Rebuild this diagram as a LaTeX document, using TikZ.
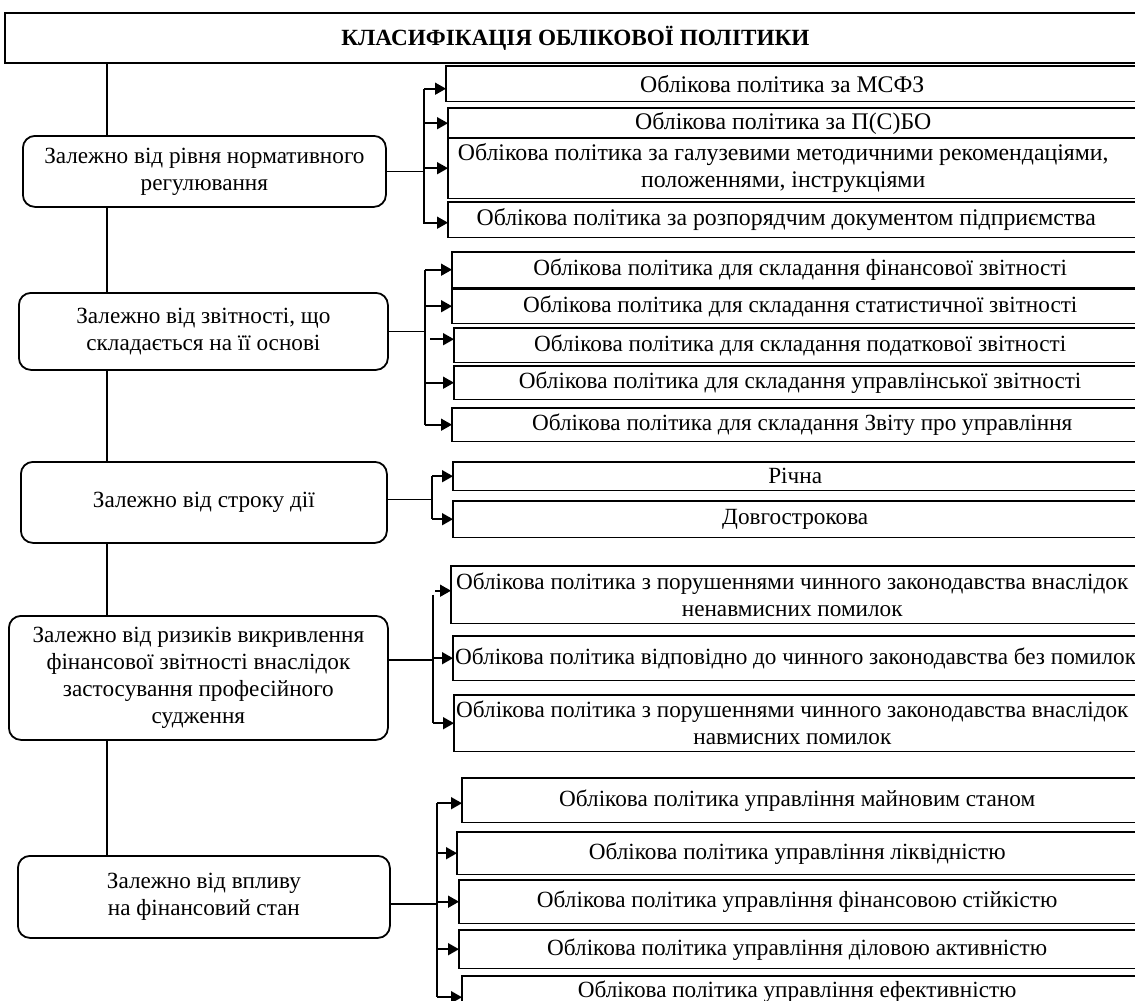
\documentclass[tikz,border=0pt]{standalone}
\usepackage{fontspec}
\setmainfont{Liberation Serif}
\usetikzlibrary{arrows.meta,positioning}

\begin{document}
\begin{tikzpicture}[
  x=1pt, y=-1pt,
  font=\fontsize{23.2}{27}\selectfont,
  head/.style={draw, line width=1.8pt, anchor=north west, align=center,
               font=\fontsize{23.2}{27}\selectfont\bfseries},
  kind/.style={draw, line width=1.8pt, rounded corners=12pt, anchor=north west,
               align=center, inner sep=2pt},
  item/.style={anchor=north west, align=center, inner sep=2pt},
  frame/.style={line width=1.8pt},
  link/.style={line width=1.6pt},
  arr/.style={line width=1.6pt, -{Triangle[length=11pt, width=12pt]}},
]
\useasboundingbox (0,0) rectangle (1135,1001);
\clip (0,0) rectangle (1135,1001);

% ---------------- title and spine ---------------------------------------
\node[head, minimum width=1141pt, minimum height=50pt] (title) at (4,12)
  {КЛАСИФІКАЦІЯ ОБЛІКОВОЇ ПОЛІТИКИ};
\coordinate (spine) at (107,0);
\coordinate (rim) at (1145,0);

% ---------------- kinds of classification -------------------------------
\node[kind, minimum width=363pt, minimum height=71pt] (b1) at (22,135)
  {Залежно від рівня нормативного\\регулювання};
\node[kind, minimum width=369pt, minimum height=77pt] (b2) at (18,292)
  {Залежно від звітності, що\\складається на її основі};
\node[kind, minimum width=366pt, minimum height=81pt] (b3) at (20,461)
  {Залежно від строку дії};
\node[kind, minimum width=379pt, minimum height=124pt] (b4) at (8,615)
  {Залежно від ризиків викривлення\\фінансової звітності внаслідок\\застосування професійного\\судження};
\node[kind, minimum width=372pt, minimum height=82pt] (b5) at (17,855)
  {Залежно від впливу\\на фінансовий стан};

\draw[link] (title.south -| spine) -- (b1.north -| spine);
\draw[link] (b1.south -| spine) -- (b2.north -| spine);
\draw[link] (b2.south -| spine) -- (b3.north -| spine);
\draw[link] (b3.south -| spine) -- (b4.north -| spine);
\draw[link] (b4.south -| spine) -- (b5.north -| spine);

% ---------------- group 1: regulation level -----------------------------
\begin{scope}[every node/.append style={font=\fontsize{23.8}{27}\selectfont}]
\node[item, minimum width=672pt, minimum height=35pt] (n1) at (446,66)
  {Облікова політика за МСФЗ};
\node[item, minimum width=670pt, minimum height=30pt] (n2) at (448,108)
  {Облікова політика за П(С)БО};
\node[item, minimum width=670pt, minimum height=60pt] (n3) at (448,138)
  {Облікова політика за галузевими методичними рекомендаціями,\\положеннями, інструкціями};
\node[item, minimum width=676pt, minimum height=35pt] (n4) at (448,202)
  {Облікова політика за розпорядчим документом підприємства};
\end{scope}
\coordinate (br1) at (424,0);

\foreach \n in {n1,n2,n3,n4} {
  \draw[frame] (\n.north west) rectangle (\n.south east -| rim);
}
\draw[link] (b1.east) -- (b1.east -| br1);
\draw[link] ([yshift=-5pt]n1.west -| br1) -- ([yshift=-4pt]n4.west -| br1);
\draw[arr] ([yshift=-5pt]n1.west -| br1) -- ([yshift=-5pt]n1.west);
\foreach \n in {n2,n3} {
  \draw[arr] (\n.west -| br1) -- (\n.west);
}
\draw[arr] ([yshift=-3pt]n4.west -| br1) -- ([yshift=-3pt]n4.west);

% ---------------- group 2: reporting ------------------------------------
\node[item, minimum width=696pt, minimum height=35pt] (s1) at (452,252)
  {Облікова політика для складання фінансової звітності};
\node[item, minimum width=696pt, minimum height=34pt] (s2) at (452,289)
  {Облікова політика для складання статистичної звітності};
\node[item, minimum width=692pt, minimum height=34pt] (s3) at (454,328)
  {Облікова політика для складання податкової звітності};
\node[item, minimum width=692pt, minimum height=33pt] (s4) at (454,366)
  {Облікова політика для складання управлінської звітності};
\node[item, minimum width=700pt, minimum height=33pt] (s5) at (452,408)
  {Облікова політика для складання Звіту про управління};
\coordinate (br2) at (425,0);

\foreach \n in {s1,s2,s3,s4,s5} {
  \draw[frame] (\n.north west) rectangle (\n.south east -| rim);
}
\draw[link] (b2.east) -- (b2.east -| br2);
\draw[link] (s1.west -| br2) -- (s5.west -| br2);
\foreach \n in {s1,s2,s4,s5} {
  \draw[arr] (\n.west -| br2) -- (\n.west);
}
\draw[arr] ([xshift=5pt,yshift=6pt]s3.west -| br2) -- ([yshift=6pt]s3.west);

% ---------------- group 3: term -----------------------------------------
\node[item, minimum width=684pt, minimum height=28pt] (t1) at (453,462) {Річна};
\node[item, minimum width=684pt, minimum height=36pt] (t2) at (453,501) {Довгострокова};
\coordinate (br3) at (432,0);

\foreach \n in {t1,t2} {
  \draw[frame] (\n.north west) rectangle (\n.south east -| rim);
}
\draw[link] ([yshift=3pt]b3.east) -- ([yshift=3pt]b3.east -| br3);
\draw[link] (t1.west -| br3) -- (t2.west -| br3);
\foreach \n in {t1,t2} {
  \draw[arr] (\n.west -| br3) -- (\n.west);
}

% ---------------- group 4: judgement risks ------------------------------
\node[item, minimum width=682pt, minimum height=57pt] (r1) at (451,566)
  {Облікова політика з порушеннями чинного законодавства внаслідок\\ненавмисних помилок};
\node[item, minimum width=678pt, minimum height=44pt] (r2) at (453,636)
  {Облікова політика відповідно до чинного законодавства без помилок};
\node[item, minimum width=676pt, minimum height=56pt] (r3) at (454,695)
  {Облікова політика з порушеннями чинного законодавства внаслідок\\навмисних помилок};
\coordinate (br4) at (433,0);

\foreach \n in {r1,r2,r3} {
  \draw[frame] (\n.north west) rectangle (\n.south east -| rim);
}
\draw[link] ([yshift=18pt]b4.east) -- ([yshift=18pt]b4.east -| br4);
\draw[link] (r1.west -| br4) -- (r3.west -| br4);
\draw[arr] ([xshift=2pt,yshift=4pt]r1.west -| br4) -- ([yshift=4pt]r1.west);
\foreach \n in {r2,r3} {
  \draw[arr] (\n.west -| br4) -- (\n.west);
}

% ---------------- group 5: financial state ------------------------------
\node[item, minimum width=670pt, minimum height=44pt] (f1) at (462,778)
  {Облікова політика управління майновим станом};
\node[item, minimum width=680pt, minimum height=42pt] (f2) at (457,832)
  {Облікова політика управління ліквідністю};
\node[item, minimum width=676pt, minimum height=43pt] (f3) at (459,880)
  {Облікова політика управління фінансовою стійкістю};
\node[item, minimum width=676pt, minimum height=38pt] (f4) at (459,930)
  {Облікова політика управління діловою активністю};
\node[item, minimum width=670pt, minimum height=30pt] (f5) at (462,976)
  {Облікова політика управління ефективністю};
\coordinate (br5) at (437,0);

\foreach \n in {f1,f2,f3,f4,f5} {
  \draw[frame] (\n.north west) rectangle (\n.south east -| rim);
}
\draw[link] ([yshift=-7pt]b5.east) -- ([yshift=-7pt]b5.east -| br5);
\draw[link] ([yshift=-3pt]f1.west -| br5) -- ([yshift=-6pt]f5.west -| br5);
\draw[arr] ([yshift=-3pt]f1.west -| br5) -- ([yshift=-3pt]f1.west);
\foreach \n in {f2,f3,f4} {
  \draw[arr] (\n.west -| br5) -- (\n.west);
}
\draw[arr] ([yshift=-6pt]f5.west -| br5) -- ([yshift=-6pt]f5.west);

\end{tikzpicture}
\end{document}
